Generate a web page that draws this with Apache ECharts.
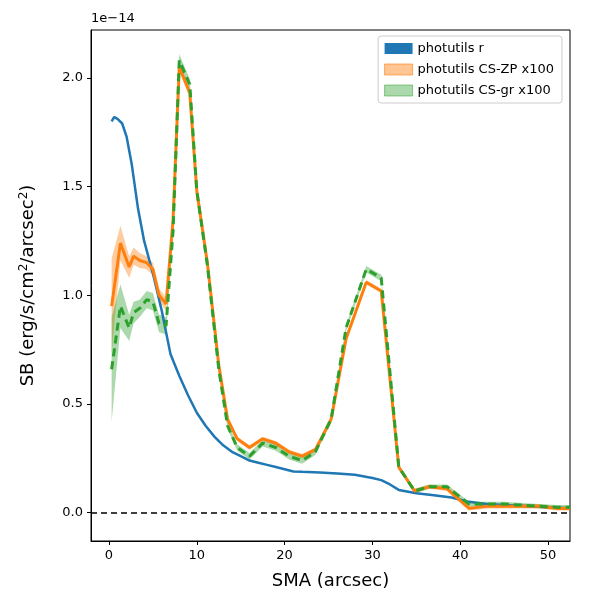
<!DOCTYPE html>
<html><head><meta charset="utf-8">
<script src="https://cdn.jsdelivr.net/npm/echarts@6/dist/echarts.min.js"></script>
<style>html,body{margin:0;padding:0;background:#fff}#c{width:600px;height:600px}</style>
</head><body><div id="c"></div>
<script>
const blueX = [0.3,0.6,1,1.5,2,2.6,3.3,4,5,6,7,8,9,10,11,12,13,14,15,16,17,18,19,20,21,22,24,26,28,30,31,32,33,35,37,39,40,41,43,45,48,50,52.5];
const blueY = [1.80,1.82,1.81,1.79,1.73,1.60,1.40,1.25,1.10,0.93,0.73,0.63,0.54,0.46,0.40,0.35,0.31,0.28,0.26,0.24,0.23,0.22,0.21,0.20,0.19,0.188,0.185,0.18,0.175,0.16,0.15,0.13,0.105,0.09,0.08,0.07,0.06,0.05,0.04,0.035,0.03,0.025,0.02];
const cX = [0.3,1.3,2.3,2.8,3.5,4.3,5,5.7,6.5,7.3,8,9.2,10,11.2,12.5,13.5,14.6,16,17.5,19,20.5,22,23.5,25.3,27,29.3,31,33,34.8,36.5,38.5,41,43,45,47,49,51,52.5];
const orangeY = [0.95,1.24,1.13,1.18,1.16,1.15,1.12,1.00,0.96,1.35,2.05,1.93,1.48,1.15,0.68,0.43,0.34,0.30,0.34,0.32,0.28,0.26,0.29,0.43,0.80,1.06,1.02,0.21,0.10,0.12,0.11,0.02,0.03,0.03,0.03,0.03,0.02,0.02];
const orangeErr = [0.22,0.08,0.05,0.04,0.035,0.03,0.03,0.03,0.03,0.02,0.02,0.02,0.02,0.015,0.015,0.015,0.01,0.01,0.01,0.01,0.01,0.01,0.01,0.01,0.01,0.01,0.01,0.01,0.01,0.01,0.01,0.01,0.01,0.01,0.01,0.01,0.01,0.01];
const greenY = [0.66,0.95,0.85,0.92,0.94,0.98,0.97,0.87,0.86,1.30,2.08,1.97,1.48,1.14,0.66,0.40,0.30,0.26,0.32,0.30,0.26,0.24,0.28,0.43,0.85,1.12,1.08,0.21,0.10,0.12,0.12,0.04,0.04,0.04,0.035,0.03,0.025,0.025];
const greenErr = [0.24,0.1,0.06,0.05,0.04,0.04,0.04,0.04,0.04,0.03,0.03,0.025,0.02,0.02,0.015,0.015,0.015,0.015,0.015,0.015,0.015,0.015,0.015,0.015,0.015,0.015,0.015,0.01,0.01,0.01,0.01,0.01,0.01,0.01,0.01,0.01,0.01,0.01];

function bandSeries(name, ys, errs, color){
  const data = cX.map((x,i)=>[x, ys[i]-errs[i], ys[i]+errs[i]]);
  return {type:'custom', name:name, data:data, z:1, silent:true,
    renderItem:function(params, api){
      if(params.dataIndex!==0) return null;
      const up=[], lo=[];
      for(const d of data){ up.push(api.coord([d[0],d[2]])); lo.push(api.coord([d[0],d[1]])); }
      return {type:'polygon', shape:{points:up.concat(lo.reverse())}, style:{fill:color, opacity:0.4}};
    }, encode:{x:0,y:[1,2]}};
}
const chart = echarts.init(document.getElementById('c'));
const font = 'DejaVu Sans';
chart.setOption({
  animation:false,
  textStyle:{fontFamily:font},
  grid:{left:91,right:30,top:30,bottom:59,show:true,borderColor:'#000',borderWidth:1},
  graphic:[{type:'text',left:91,top:12,style:{text:'1e\u221214',font:'13px DejaVu Sans',fill:'#000'}}],
  legend:{right:38,top:36,orient:'vertical',itemWidth:28,itemHeight:11,itemGap:8,
    backgroundColor:'#fff',borderColor:'#ccc',borderWidth:1,borderRadius:3,padding:[6,8,6,6],
    textStyle:{fontSize:13,fontFamily:font,color:'#000'},
    data:[
      {name:'photutils r',icon:'rect',itemStyle:{color:'#1f77b4',borderWidth:0}},
      {name:'photutils CS-ZP x100',icon:'rect',itemStyle:{color:'rgba(255,127,14,0.45)',borderColor:'rgba(255,127,14,0.6)',borderWidth:1}},
      {name:'photutils CS-gr x100',icon:'rect',itemStyle:{color:'rgba(44,160,44,0.4)',borderColor:'rgba(44,160,44,0.5)',borderWidth:1}}
    ]},
  xAxis:{type:'value',min:-2.05,max:52.5,name:'SMA (arcsec)',nameLocation:'middle',nameGap:31,
    nameTextStyle:{fontSize:18,color:'#000'},
    axisLine:{onZero:false,lineStyle:{color:'#000'}},
    axisTick:{show:true,length:4,customValues:[0,10,20,30,40,50],lineStyle:{color:'#000'}},
    axisLabel:{customValues:[0,10,20,30,40,50],fontSize:13,color:'#000'},splitLine:{show:false}},
  yAxis:{type:'value',min:-0.13,max:2.22,name:'SB (erg/s/cm{s|2}/arcsec{s|2})',nameLocation:'middle',nameGap:52,
    nameTextStyle:{fontSize:18,color:'#000',rich:{s:{fontSize:12,verticalAlign:'top',padding:[0,0,9,0]}}},
    axisLine:{show:true,onZero:false,lineStyle:{color:'#000'}},
    axisTick:{show:true,length:4,customValues:[0,0.5,1,1.5,2],lineStyle:{color:'#000'}},
    axisLabel:{customValues:[0,0.5,1,1.5,2],formatter:v=>v.toFixed(1),fontSize:13,color:'#000'},splitLine:{show:false}},
  series:[
    bandSeries('photutils CS-ZP x100', orangeY, orangeErr, '#ff7f0e'),
    bandSeries('photutils CS-gr x100', greenY, greenErr, '#2ca02c'),
    {type:'line',name:'photutils r',data:blueX.map((x,i)=>[x,blueY[i]]),showSymbol:false,z:3,
      lineStyle:{color:'#1f77b4',width:2.5},itemStyle:{color:'#1f77b4'},
      markLine:{silent:true,symbol:'none',label:{show:false},lineStyle:{color:'#000',type:[6,4],width:1.5},data:[{yAxis:0}]}},
    {type:'line',name:'photutils CS-ZP x100',data:cX.map((x,i)=>[x,orangeY[i]]),showSymbol:false,z:4,
      lineStyle:{color:'#ff7f0e',width:3},itemStyle:{color:'#ff7f0e'}},
    {type:'line',name:'photutils CS-gr x100',data:cX.map((x,i)=>[x,greenY[i]]),showSymbol:false,z:5,
      lineStyle:{color:'#2ca02c',width:3,type:[8,5]},itemStyle:{color:'#2ca02c'}}
  ]
});
</script></body></html>
